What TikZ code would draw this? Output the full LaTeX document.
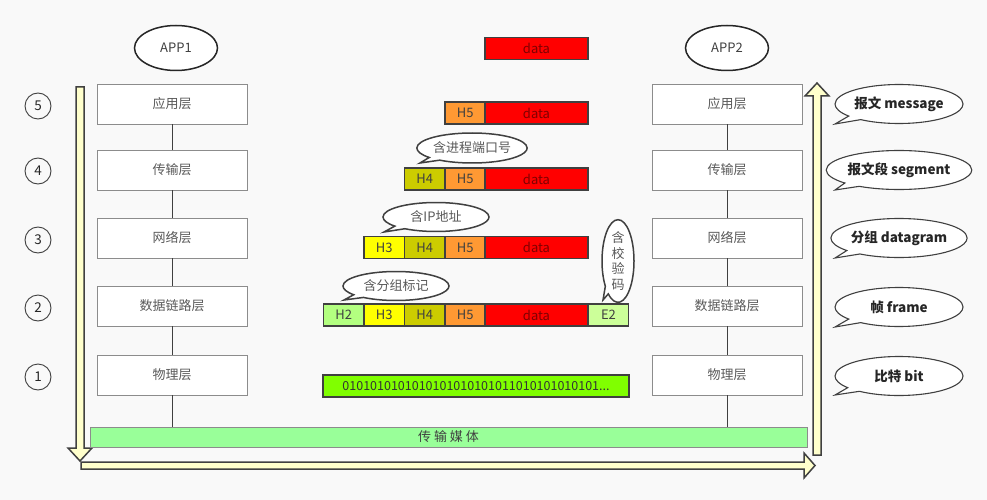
\documentclass[tikz,border=0pt]{standalone}
\usepackage{fontspec}
\setmainfont{Noto Sans CJK SC}
\usetikzlibrary{shapes.geometric,shapes.callouts}
\definecolor{bg}{HTML}{F9F9F9}
\definecolor{edge}{HTML}{404040}
\definecolor{boxedge}{HTML}{8C8C8C}
\definecolor{txt}{HTML}{595959}
\definecolor{cH2}{HTML}{B3FF80}
\definecolor{cH3}{HTML}{FFFF00}
\definecolor{cH4}{HTML}{CCCC00}
\definecolor{cH5}{HTML}{FF9933}
\definecolor{cdata}{HTML}{FF0000}
\definecolor{cE2}{HTML}{CCFF99}
\definecolor{cbit}{HTML}{80FF00}
\definecolor{cmed}{HTML}{99FF99}
\definecolor{carrow}{HTML}{FFFFCC}
\definecolor{datatxt}{HTML}{800000}
\tikzset{
  layerbox/.style={draw=boxedge, fill=white, minimum width=150pt, minimum height=40pt, inner sep=0pt, text=txt, font=\fontsize{13}{15}\selectfont},
  numcirc/.style={draw=edge, line width=0.9pt, circle, minimum size=26pt, inner sep=0pt, text=black!85, font=\fontsize{13.5}{15}\selectfont},
  appell/.style={draw=black!85, line width=1.5pt, ellipse, minimum width=83pt, minimum height=45pt, inner sep=0pt, fill=white, text=edge, font=\fontsize{13}{15}\selectfont},
  cell/.style={draw=edge, line width=1.4pt, minimum height=22pt, inner sep=0pt, text=edge, font=\fontsize{13}{15}\selectfont},
  hcell/.style={cell, minimum width=40.5pt},
  dcell/.style={cell, fill=cdata, minimum width=103pt, text=datatxt},
  bubble/.style={ellipse callout, draw=edge, line width=1.5pt, fill=white, inner sep=0pt, text=txt, font=\fontsize{13}{15}\selectfont},
  rbubble/.style={bubble, line width=1.1pt, minimum width=128pt, minimum height=39pt, text=black!85, font=\fontsize{13.5}{15}\selectfont\bfseries},
  bigarrow/.style={draw=edge, line width=1.5pt, fill=carrow, line join=miter},
  link/.style={draw=edge, line width=0.5pt}
}
\begin{document}
\begin{tikzpicture}[x=1pt,y=-1pt]
\path[use as bounding box, fill=bg] (0,0) rectangle (987,500);

% big arrows
\path[bigarrow] (76,87) -- (84,87) -- (84,448) -- (92,448) -- (80,461) -- (68,448) -- (76,448) -- cycle;
\path[bigarrow] (81,462) -- (804,462) -- (804,453) -- (815,465.5) -- (804,478) -- (804,469) -- (81,469) -- cycle;
\path[bigarrow] (813,455) -- (813,96) -- (805,96) -- (817,83) -- (829,96) -- (821,96) -- (821,455) -- cycle;

% apps
\node[appell] (app1) at (176,48) {APP1};
\node[appell] (app2) at (727,48) {APP2};

% medium
\node[draw=boxedge, line width=1pt, fill=cmed, minimum width=717pt, minimum height=20pt, inner sep=0pt, text=edge, font=\fontsize{13}{15}\selectfont] (med) at (448.5,437) {传 输 媒 体};

% left layers
\node[layerbox] (l5) at (172,104) {应用层};
\node[layerbox] (l4) at (172,170) {传输层};
\node[layerbox] (l3) at (172,238) {网络层};
\node[layerbox] (l2) at (172,306) {数据链路层};
\node[layerbox] (l1) at (172,375) {物理层};
% right layers
\node[layerbox] (r5) at (727,104) {应用层};
\node[layerbox] (r4) at (727,170) {传输层};
\node[layerbox] (r3) at (727,238) {网络层};
\node[layerbox] (r2) at (727,306) {数据链路层};
\node[layerbox] (r1) at (727,375) {物理层};

\draw[link] (l5) -- (l4); \draw[link] (l4) -- (l3); \draw[link] (l3) -- (l2); \draw[link] (l2) -- (l1);
\draw[link] (l1.south) -- (l1.south |- med.north);
\draw[link] (r5) -- (r4); \draw[link] (r4) -- (r3); \draw[link] (r3) -- (r2); \draw[link] (r2) -- (r1);
\draw[link] (r1.south) -- (r1.south |- med.north);

% numbers
\node[numcirc] (n5) at (38,106) {5};
\node[numcirc] (n4) at (38,171) {4};
\node[numcirc] (n3) at (38,240) {3};
\node[numcirc] (n2) at (38,308) {2};
\node[numcirc] (n1) at (38,377) {1};

% packets
\node[dcell] (d0) at (536.5,48.5) {data};

\node[hcell, fill=cH5] (h55) at (465.25,113) {H5};
\node[dcell] (d5) at (536.5,113) {data};

\node[hcell, fill=cH4] (h44) at (424.75,179) {H4};
\node[hcell, fill=cH5] (h45) at (465.25,179) {H5};
\node[dcell] (d4) at (536.5,179) {data};

\node[hcell, fill=cH3] (h33) at (384.25,247.5) {H3};
\node[hcell, fill=cH4] (h34) at (424.75,247.5) {H4};
\node[hcell, fill=cH5] (h35) at (465.25,247.5) {H5};
\node[dcell] (d3) at (536.5,247.5) {data};

\node[hcell, fill=cH2] (h22) at (343.75,315) {H2};
\node[hcell, fill=cH3] (h23) at (384.25,315) {H3};
\node[hcell, fill=cH4] (h24) at (424.75,315) {H4};
\node[hcell, fill=cH5] (h25) at (465.25,315) {H5};
\node[dcell] (d2) at (536.5,315) {data};
\node[hcell, fill=cE2] (e2) at (608.5,315) {E2};

\node[cell, fill=cbit, minimum width=306pt, text=black!80, font=\fontsize{12.5}{14}\selectfont] (bits) at (476,386) {0101010101010101010101011010101010101...};

% callouts on packets
\coordinate (p4) at (420,163);
\coordinate (p3) at (384,232);
\coordinate (p2) at (344,300);
\coordinate (pe) at (603,300);
\node[bubble, minimum width=107pt, minimum height=30pt, callout absolute pointer={(p4)}] (b4) at (472,148) {含进程端口号};
\node[bubble, minimum width=106pt, minimum height=29pt, callout absolute pointer={(p3)}] (b3) at (436,217) {含IP地址};
\node[bubble, minimum width=106pt, minimum height=29pt, callout absolute pointer={(p2)}] (b2) at (396,286) {含分组标记};
\node[bubble, minimum width=32pt, minimum height=78pt, callout absolute pointer={(pe)}, align=center, font=\fontsize{13}{15.5}\selectfont] (be) at (618,261) {含\\校\\验\\码};

% right callouts
\coordinate (q5) at (835,124);
\coordinate (q4) at (835,190);
\coordinate (q3) at (835,258);
\coordinate (q2) at (835,327);
\coordinate (q1) at (835,395);
\node[rbubble, callout absolute pointer={(q5)}] (c5) at (899,104) {报文 message};
\node[rbubble, callout absolute pointer={(q4)}] (c4) at (899,170) {报文段 segment};
\node[rbubble, callout absolute pointer={(q3)}] (c3) at (899,238) {分组 datagram};
\node[rbubble, callout absolute pointer={(q2)}] (c2) at (899,307) {帧 frame};
\node[rbubble, callout absolute pointer={(q1)}] (c1) at (899,376) {比特 bit};
\end{tikzpicture}
\end{document}
